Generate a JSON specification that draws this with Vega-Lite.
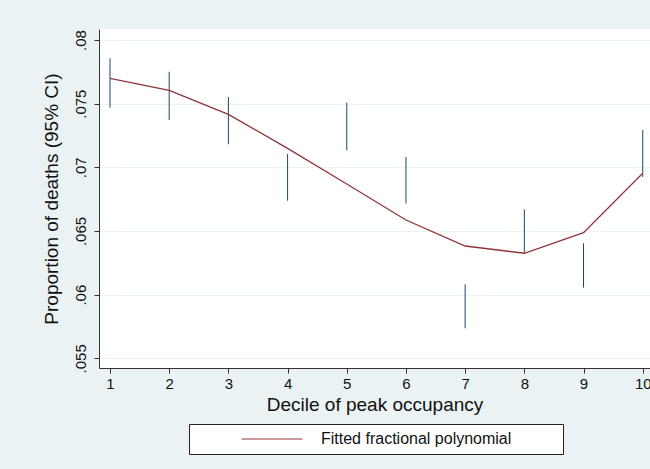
{
  "$schema": "https://vega.github.io/schema/vega-lite/v6.json",
  "width": 551,
  "height": 339,
  "autosize": {"type": "none"},
  "padding": {"left": 99, "top": 29, "right": 0, "bottom": 101},
  "background": "#eaf2f3",
  "data": {
    "values": [
      {"decile": 1, "lo": 0.07468, "hi": 0.07856, "fit": 0.07699},
      {"decile": 2, "lo": 0.07372, "hi": 0.07751, "fit": 0.07605},
      {"decile": 3, "lo": 0.07181, "hi": 0.07552, "fit": 0.07416},
      {"decile": 4, "lo": 0.06738, "hi": 0.07105, "fit": 0.07149},
      {"decile": 5, "lo": 0.07134, "hi": 0.07508, "fit": 0.06869},
      {"decile": 6, "lo": 0.06716, "hi": 0.07081, "fit": 0.06586},
      {"decile": 7, "lo": 0.05736, "hi": 0.06081, "fit": 0.06382},
      {"decile": 8, "lo": 0.06325, "hi": 0.06670, "fit": 0.06325},
      {"decile": 9, "lo": 0.06055, "hi": 0.06403, "fit": 0.06487},
      {"decile": 10, "lo": 0.06924, "hi": 0.07293, "fit": 0.06953}
    ]
  },
  "encoding": {
    "x": {
      "field": "decile",
      "type": "quantitative",
      "scale": {"domain": [0.814, 10.123], "nice": false, "zero": false},
      "axis": {
        "values": [1, 2, 3, 4, 5, 6, 7, 8, 9, 10],
        "title": "Decile of peak occupancy",
        "grid": false,
        "labelFlush": false,
        "labelOverlap": false,
        "labelBound": false,
        "labelFontSize": 15,
        "labelPadding": 3,
        "tickSize": 5,
        "titleFontSize": 19,
        "titleFontWeight": "normal",
        "titlePadding": 4
      }
    }
  },
  "layer": [
    {
      "mark": {"type": "rule", "color": "#1a476f", "strokeWidth": 1},
      "encoding": {
        "y": {
          "field": "lo",
          "type": "quantitative",
          "scale": {"domain": [0.054238, 0.080864], "nice": false, "zero": false},
          "axis": {
            "values": [0.055, 0.06, 0.065, 0.07, 0.075, 0.08],
            "labelExpr": "substring(format(datum.value, '.3~f'), 1)",
            "title": "Proportion of deaths (95% CI)",
            "grid": true,
            "gridColor": "#eaf2f3",
            "gridWidth": 1,
            "labelAngle": 270,
            "labelAlign": "center",
            "labelBaseline": "bottom",
            "labelFontSize": 15,
            "labelPadding": 6,
            "labelOverlap": false,
            "labelFlush": false,
            "tickSize": 5,
            "titleFontSize": 19,
            "titleFontWeight": "normal",
            "titlePadding": 12
          }
        },
        "y2": {"field": "hi"}
      }
    },
    {
      "mark": {"type": "line", "strokeWidth": 1.3},
      "encoding": {
        "y": {"field": "fit", "type": "quantitative"},
        "color": {
          "datum": "Fitted fractional polynomial",
          "type": "nominal",
          "scale": {"range": ["#90353b"]},
          "legend": {
            "title": null,
            "orient": "none",
            "legendX": 90,
            "legendY": 395,
            "fillColor": "white",
            "strokeColor": "#222222",
            "padding": 7,
            "symbolType": "stroke",
            "symbolSize": 3721,
            "symbolStrokeWidth": 1,
            "symbolOffset": 45,
            "clipHeight": 16,
            "labelOffset": 18,
            "labelFontSize": 16,
            "labelColor": "#111111",
            "labelLimit": 0,
            "labelExpr": "datum.label + '\u2003\u2003\u2800'"
          }
        }
      }
    }
  ],
  "config": {
    "font": "Liberation Sans",
    "view": {"fill": "white", "stroke": null},
    "axis": {
      "domainColor": "#333333",
      "tickColor": "#333333",
      "labelColor": "#111111",
      "titleColor": "#111111",
      "domainWidth": 1,
      "tickWidth": 1
    }
  }
}
